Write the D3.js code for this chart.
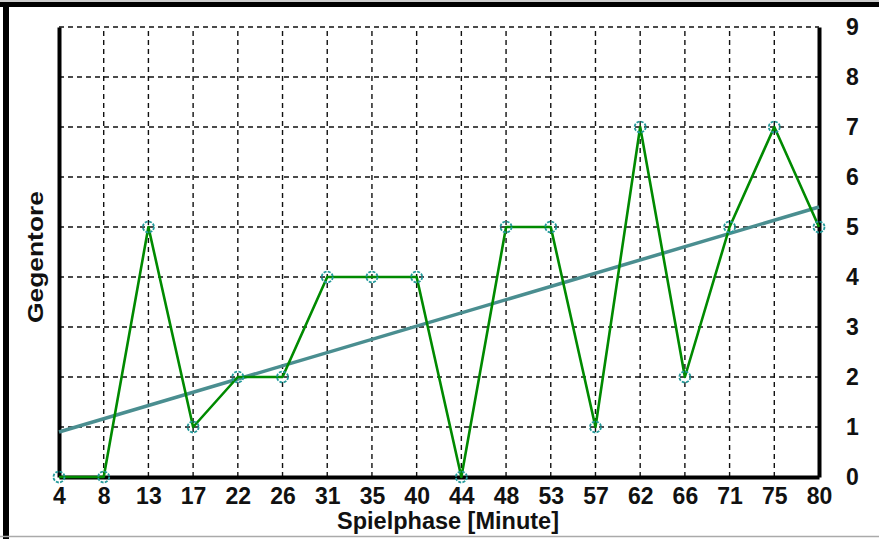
<!DOCTYPE html>
<html><head><meta charset="utf-8">
<script src="https://cdn.jsdelivr.net/npm/d3@7"></script>
<style>html,body{margin:0;padding:0;background:#fff;}svg{display:block;}</style>
</head><body>
<svg id="c" width="879" height="539"></svg>
<script>
const minutes = ["4","8","13","17","22","26","31","35","40","44","48","53","57","62","66","71","75","80"];
const goals = [0,0,5,1,2,2,4,4,4,0,5,5,1,7,2,5,7,5];
const trend = [0.9, 5.4]; // trend line value at first and last minute
const yTicks = [0,1,2,3,4,5,6,7,8,9];

const FONT = "'Liberation Sans', Arial, sans-serif";
const svg = d3.select("#c");
const L = 59, R = 819, T = 27, B = 477;
const x = d3.scalePoint().domain(minutes).range([L, R]);
const y = d3.scaleLinear().domain([0, 9]).range([B, T]);

// frame
svg.append("rect").attr("x",0).attr("y",0).attr("width",879).attr("height",539).attr("fill","#fff");
svg.append("line").attr("x1",0).attr("x2",879).attr("y1",1).attr("y2",1).attr("stroke","#999").attr("stroke-width",1);
svg.append("line").attr("x1",0).attr("x2",879).attr("y1",4.5).attr("y2",4.5).attr("stroke","#000").attr("stroke-width",5);
svg.append("line").attr("x1",6).attr("x2",6).attr("y1",2).attr("y2",539).attr("stroke","#000").attr("stroke-width",6);
svg.append("line").attr("x1",0).attr("x2",879).attr("y1",536.5).attr("y2",536.5).attr("stroke","#aaa").attr("stroke-width",1.5);

// grid
const grid = svg.append("g").attr("stroke","#111").attr("stroke-width",1.4).attr("stroke-dasharray","5,4");
grid.selectAll("line.v").data(minutes).join("line")
  .attr("x1",d=>x(d)).attr("x2",d=>x(d)).attr("y1",B).attr("y2",T);
grid.selectAll("line.h").data(yTicks.filter(d=>d>0)).join("line")
  .attr("x1",L).attr("x2",R).attr("y1",d=>y(d)).attr("y2",d=>y(d));

// axes
const axL = svg.append("g").attr("transform",`translate(${L},0)`).call(d3.axisLeft(y).tickValues([]).tickSizeOuter(0));
const axR = svg.append("g").attr("transform",`translate(${R},0)`).call(d3.axisRight(y).tickValues(yTicks).tickSize(0).tickPadding(27));
const axB = svg.append("g").attr("transform",`translate(0,${B})`).call(d3.axisBottom(x).tickSize(0).tickPadding(11));
[axL,axR,axB].forEach(a=>{
  a.select(".domain").attr("stroke","#000").attr("stroke-width",4);
  a.selectAll("text").attr("font-family",FONT).attr("font-weight","bold").attr("font-size",23).attr("fill","#111");
});
axR.selectAll("text").attr("text-anchor","start").attr("dx",0);
axB.selectAll("text").attr("dy","0.7em");

// trend line
svg.append("line")
  .attr("x1",x(minutes[0])).attr("y1",y(trend[0]))
  .attr("x2",x(minutes[minutes.length-1])).attr("y2",y(trend[1]))
  .attr("stroke","#4a8e90").attr("stroke-width",3.5);

// data line
const data = minutes.map((m,i)=>({m, v:goals[i]}));
svg.append("path").datum(data)
  .attr("fill","none").attr("stroke","#008a00").attr("stroke-width",2.6).attr("stroke-linejoin","round")
  .attr("d", d3.line().x(d=>x(d.m)).y(d=>y(d.v)));

svg.selectAll("circle.pt").data(data).join("circle")
  .attr("cx",d=>x(d.m)).attr("cy",d=>y(d.v)).attr("r",5.5)
  .attr("fill","none").attr("stroke","#239a9a").attr("stroke-width",1.8).attr("stroke-dasharray","3,1.3");

// titles
svg.append("text").attr("x",448).attr("y",529).attr("text-anchor","middle")
  .attr("font-family",FONT).attr("font-weight","bold").attr("font-size",23.5).attr("fill","#111")
  .text("Spielphase [Minute]");
svg.append("text").attr("transform","translate(43,257) rotate(-90) scale(1.2,1)").attr("text-anchor","middle")
  .attr("font-family",FONT).attr("font-weight","bold").attr("font-size",22).attr("fill","#111")
  .text("Gegentore");
</script>
</body></html>
